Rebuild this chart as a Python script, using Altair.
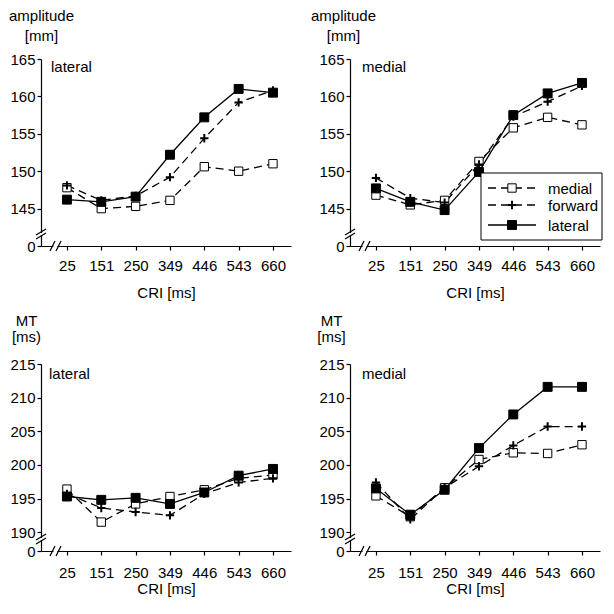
import altair as alt
import pandas as pd

FONT = "Liberation Sans"

cri = ["25", "151", "250", "349", "446", "543", "660"]
series = ["medial", "forward", "lateral"]

# amplitude [mm], panel "lateral"
amp_lat_medial = [147.8, 145.0, 145.3, 146.1, 150.6, 150.0, 151.0]
amp_lat_forward = [148.1, 146.1, 146.7, 149.2, 154.4, 159.2, 160.8]
amp_lat_lateral = [146.2, 145.9, 146.6, 152.2, 157.2, 161.0, 160.5]

# amplitude [mm], panel "medial"
amp_med_medial = [146.8, 145.5, 146.1, 151.3, 155.8, 157.2, 156.2]
amp_med_forward = [149.1, 146.4, 145.8, 150.9, 157.3, 159.3, 161.4]
amp_med_lateral = [147.7, 145.9, 144.8, 149.9, 157.5, 160.4, 161.8]

# MT [ms], panel "lateral"
mt_lat_medial = [196.4, 191.5, 194.2, 195.3, 196.3, 198.0, 198.5]
mt_lat_forward = [195.7, 193.6, 193.0, 192.5, 195.7, 197.4, 198.0]
mt_lat_lateral = [195.3, 194.8, 195.1, 194.2, 195.9, 198.4, 199.4]

# MT [ms], panel "medial"
mt_med_medial = [195.4, 192.3, 196.6, 200.8, 201.8, 201.7, 203.0]
mt_med_forward = [197.4, 191.9, 196.6, 199.8, 202.9, 205.7, 205.7]
mt_med_lateral = [196.5, 192.6, 196.3, 202.5, 207.5, 211.6, 211.6]

amp_ticks = [140, 145, 150, 155, 160, 165]
mt_ticks = [187.2, 190, 195, 200, 205, 210, 215]

STYLE = {
    "medial": dict(dash=[8, 5], shape="square", fill="white", size=70, sw=1),
    "forward": dict(dash=[8, 5], shape="M-1,0L1,0M0,-1L0,1", fill="black", size=70, sw=2),
    "lateral": dict(dash=None, shape="square", fill="black", size=80, sw=1),
}

W, H = 250, 187


def make_df(m, f, l):
    rows = []
    for s, vals in zip(series, [m, f, l]):
        for c, v in zip(cri, vals):
            rows.append({"CRI": c, "value": v, "series": s})
    return pd.DataFrame(rows)


def line_kw(s):
    kw = dict(color="black", strokeWidth=1.3)
    if STYLE[s]["dash"] is not None:
        kw["strokeDash"] = STYLE[s]["dash"]
    return kw


def point_kw(s):
    st = STYLE[s]
    return dict(shape=st["shape"], size=st["size"], filled=True, fill=st["fill"],
                stroke="black", strokeWidth=st["sw"], opacity=1)


def seg(x1, y1, x2, y2, color="black", w=1.2):
    return alt.Chart(alt.Data(values=[{"k": 0}])).mark_rule(color=color, strokeWidth=w).encode(
        x=alt.value(x1), y=alt.value(y1), x2=alt.value(x2), y2=alt.value(y2))


def panel(df, ydom, yticks, zero_cut, ytitle, ytx, yty, ylh, xlpad, xty, label, lx, ly, legend=False):
    x_enc = alt.X("CRI:N", scale=alt.Scale(type="point", domain=cri, padding=0.64, align=0.59),
                  axis=alt.Axis(title="CRI [ms]", titleY=xty, titleBaseline="alphabetic",
                                titleFont=FONT, titleFontSize=15, titleFontWeight="normal",
                                titleColor="black", labelAngle=0, labelFont=FONT, labelFontSize=15,
                                labelColor="black", labelPadding=xlpad, tickSize=4, tickColor="black",
                                tickWidth=1.2, domainColor="black", domainWidth=1.2, grid=False,
                                zindex=0))
    y_enc = alt.Y("value:Q", scale=alt.Scale(domain=ydom, nice=False, zero=False),
                  axis=alt.Axis(values=yticks, labelExpr=f"datum.value < {zero_cut} ? '0' : datum.label",
                                title=ytitle, titleAngle=0, titleAlign="center", titleBaseline="alphabetic",
                                titleX=ytx, titleY=yty, titleLineHeight=ylh, titleFont=FONT,
                                titleFontSize=15, titleFontWeight="normal", titleColor="black",
                                labelFont=FONT, labelFontSize=15, labelColor="black", labelPadding=2,
                                tickSize=4, tickColor="black", tickWidth=1.2, domainColor="black",
                                domainWidth=1.2, grid=False, zindex=0))
    layers = []
    for s in series:
        base = alt.Chart(df).transform_filter(alt.datum.series == s)
        layers.append(base.mark_line(**line_kw(s)).encode(x=x_enc, y=y_enc))
    for s in series:
        base = alt.Chart(df).transform_filter(alt.datum.series == s)
        layers.append(base.mark_point(**point_kw(s)).encode(x=x_enc, y=y_enc))
    # axis break marks
    layers.append(seg(0, H - 13, 0, H - 11, color="white", w=3))
    layers.append(seg(-5, H - 7, 5, H - 13))
    layers.append(seg(-5, H - 11, 5, H - 17))
    layers.append(seg(12.5, H, 16.5, H, color="white", w=3))
    layers.append(seg(9, H + 5, 14, H - 5))
    layers.append(seg(15, H + 5, 20, H - 5))
    # panel label
    layers.append(alt.Chart(alt.Data(values=[{"t": label}])).mark_text(
        align="left", baseline="alphabetic", font=FONT, fontSize=15, color="black").encode(
        x=alt.value(lx), y=alt.value(ly), text="t:N"))
    if legend:
        layers.append(alt.Chart(alt.Data(values=[{"k": 0}])).mark_rect(
            fill="white", stroke="black", strokeWidth=1).encode(
            x=alt.value(131), x2=alt.value(252), y=alt.value(114), y2=alt.value(181)))
        for s, yy in zip(series, [129, 146, 166]):
            d = alt.Data(values=[{"s": s}])
            layers.append(alt.Chart(d).mark_rule(**line_kw(s)).encode(
                x=alt.value(138), x2=alt.value(186), y=alt.value(yy)))
            layers.append(alt.Chart(d).mark_point(**point_kw(s)).encode(
                x=alt.value(162), y=alt.value(yy)))
            layers.append(alt.Chart(d).mark_text(
                align="left", baseline="middle", font=FONT, fontSize=15, color="black").encode(
                x=alt.value(198), y=alt.value(yy + 1), text="s:N"))
    return alt.layer(*layers).properties(width=W, height=H)


p1 = panel(make_df(amp_lat_medial, amp_lat_forward, amp_lat_lateral), [140, 165], amp_ticks, 141,
           ["amplitude", "[mm]"], 0, -39, 20, 8, 51, "lateral", 10, 13)
p2 = panel(make_df(amp_med_medial, amp_med_forward, amp_med_lateral), [140, 165], amp_ticks, 141,
           ["amplitude", "[mm]"], -7, -39, 20, 8, 51, "medial", 12, 13, legend=True)
p3 = panel(make_df(mt_lat_medial, mt_lat_forward, mt_lat_lateral), [187.2, 215], mt_ticks, 189,
           ["MT", "[ms)"], -15, -39, 16, 10, 42, "lateral", 8, 15)
p4 = panel(make_df(mt_med_medial, mt_med_forward, mt_med_lateral), [187.2, 215], mt_ticks, 189,
           ["MT", "[ms]"], -19, -39, 16, 10, 42, "medial", 12, 15)

chart = alt.concat(p1, p2, p3, p4, columns=2, spacing={"row": 118, "column": 59},
                   bounds="flush").properties(
    padding={"left": 0, "top": 0, "right": 2, "bottom": 6}, background="white"
).configure_view(strokeWidth=0)

chart.save("out.html", embed_options={"renderer": "svg", "actions": False})
